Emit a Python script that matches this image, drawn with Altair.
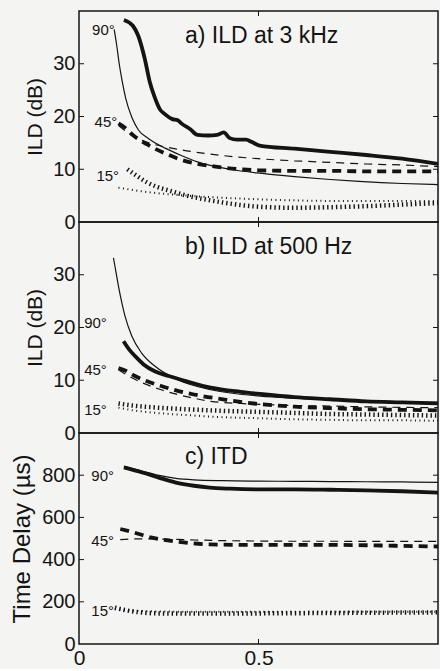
import altair as alt
import pandas as pd

INK = "#141414"
BG = "#f4f4f2"
FONT = "Liberation Sans"

# ---------------- Panel a: ILD at 3 kHz ----------------
a90_thick_x = [0.125, 0.15, 0.165, 0.183, 0.197, 0.21, 0.225, 0.24, 0.26, 0.275, 0.285, 0.31, 0.33, 0.36, 0.385, 0.403, 0.42, 0.44, 0.466, 0.48, 0.503, 0.6, 0.7, 0.8, 0.9, 1.0]
a90_thick_y = [38.3, 37.2, 35.3, 31.0, 26.6, 23.8, 21.4, 20.4, 19.5, 19.3, 18.7, 17.6, 16.5, 16.4, 16.5, 17.0, 15.9, 15.6, 15.6, 15.2, 14.5, 13.9, 13.3, 12.7, 12.0, 11.0]
a90_thin_x = [0.098, 0.105, 0.112, 0.12, 0.13, 0.148, 0.166, 0.194, 0.24, 0.285, 0.33, 0.42, 0.51, 0.60, 0.69, 0.78, 0.9, 1.0]
a90_thin_y = [36.5, 33.5, 30.0, 26.8, 23.5, 19.7, 17.4, 15.8, 14.0, 12.6, 11.4, 10.0, 9.2, 8.6, 8.1, 7.7, 7.3, 7.1]
a45_thick_x = [0.11, 0.13, 0.15, 0.19, 0.24, 0.28, 0.33, 0.38, 0.45, 0.5, 0.6, 0.7, 0.8, 0.9, 1.0]
a45_thick_y = [18.7, 17.8, 16.5, 14.7, 13.0, 11.9, 11.0, 10.5, 10.0, 9.8, 9.7, 9.7, 9.6, 9.6, 9.6]
a45_thin_x = [0.11, 0.15, 0.2, 0.25, 0.3, 0.4, 0.5, 0.6, 0.7, 0.8, 0.9, 1.0]
a45_thin_y = [18.3, 16.3, 14.9, 14.1, 13.5, 12.6, 12.0, 11.6, 11.3, 11.0, 10.8, 10.5]
a15_thick_x = [0.135, 0.16, 0.19, 0.22, 0.26, 0.3, 0.35, 0.4, 0.5, 0.6, 0.7, 0.8, 0.9, 1.0]
a15_thick_y = [10.0, 8.8, 7.5, 6.6, 5.8, 5.0, 4.3, 3.7, 2.9, 2.7, 2.8, 3.0, 3.3, 3.6]
a15_thin_x = [0.11, 0.2, 0.3, 0.4, 0.5, 0.6, 0.7, 0.8, 0.9, 1.0]
a15_thin_y = [6.5, 5.6, 5.0, 4.6, 4.3, 4.1, 4.0, 4.0, 4.0, 4.0]

# ---------------- Panel b: ILD at 500 Hz ----------------
b90_thin_x = [0.096, 0.103, 0.11, 0.12, 0.128, 0.147, 0.174, 0.211, 0.275, 0.367, 0.505, 0.6, 0.7, 0.8, 0.9, 1.0]
b90_thin_y = [33.2, 30.5, 27.8, 24.5, 22.2, 18.4, 15.2, 12.7, 10.1, 8.2, 7.0, 6.6, 6.3, 6.1, 5.9, 5.8]
b90_thick_x = [0.124, 0.14, 0.156, 0.18, 0.211, 0.25, 0.3, 0.367, 0.45, 0.505, 0.6, 0.7, 0.8, 0.9, 1.0]
b90_thick_y = [17.4, 15.8, 14.6, 13.0, 11.7, 10.8, 9.8, 8.6, 7.8, 7.4, 6.8, 6.4, 6.0, 5.8, 5.6]
b45_thick_x = [0.11, 0.13, 0.156, 0.19, 0.229, 0.28, 0.32, 0.41, 0.5, 0.6, 0.7, 0.8, 0.9, 1.0]
b45_thick_y = [12.3, 11.8, 10.8, 9.8, 8.9, 7.9, 7.3, 6.3, 5.5, 5.0, 4.7, 4.5, 4.4, 4.3]
b45_thin_x = [0.11, 0.138, 0.18, 0.229, 0.28, 0.32, 0.367, 0.45, 0.55, 0.7, 0.85, 1.0]
b45_thin_y = [12.0, 10.8, 9.4, 8.2, 7.2, 6.6, 6.0, 5.6, 5.3, 5.1, 4.9, 4.8]
b15_thick_x = [0.11, 0.15, 0.2, 0.3, 0.4, 0.5, 0.6, 0.7, 0.8, 0.9, 1.0]
b15_thick_y = [5.6, 5.2, 4.9, 4.5, 4.2, 4.0, 3.8, 3.6, 3.5, 3.4, 3.3]
b15_thin_x = [0.11, 0.15, 0.2, 0.3, 0.4, 0.5, 0.6, 0.7, 0.8, 0.9, 1.0]
b15_thin_y = [4.8, 4.3, 3.9, 3.4, 3.0, 2.8, 2.6, 2.5, 2.4, 2.4, 2.3]

# ---------------- Panel c: ITD ----------------
c90_thick_x = [0.125, 0.176, 0.22, 0.27, 0.32, 0.364, 0.42, 0.505, 0.6, 0.7, 0.8, 0.9, 1.0]
c90_thick_y = [837, 813, 790, 765, 750, 741, 736, 733, 733, 731, 728, 724, 717]
c90_thin_x = [0.125, 0.176, 0.22, 0.27, 0.32, 0.4, 0.5, 0.6, 0.7, 0.8, 0.9, 1.0]
c90_thin_y = [842, 820, 800, 785, 778, 774, 772, 771, 770, 769, 768, 766]
c45_thick_x = [0.115, 0.15, 0.2, 0.27, 0.364, 0.45, 0.505, 0.6, 0.7, 0.8, 0.9, 1.0]
c45_thick_y = [545, 530, 505, 486, 472, 470, 470, 470, 470, 468, 465, 462]
c45_thin_x = [0.115, 0.15, 0.2, 0.3, 0.4, 0.5, 0.6, 0.7, 0.8, 0.9, 1.0]
c45_thin_y = [495, 498, 498, 494, 490, 488, 487, 487, 486, 486, 486]
c15_thick_x = [0.1, 0.13, 0.17, 0.22, 0.3, 0.4, 0.5, 0.6, 0.7, 0.8, 0.9, 1.0]
c15_thick_y = [172, 160, 150, 145, 144, 144, 145, 146, 147, 148, 149, 150]
c15_thin_x = [0.1, 0.15, 0.2, 0.3, 0.5, 0.7, 0.9, 1.0]
c15_thin_y = [165, 158, 155, 153, 153, 153, 153, 153]

# angle labels
angle_text = ["90°", "45°", "15°"]
a_lab_x = [0.068, 0.075, 0.08]
a_lab_y = [36.4, 19.0, 8.7]
b_lab_x = [0.046, 0.046, 0.046]
b_lab_y = [20.8, 12.0, 4.3]
c_lab_x = [0.066, 0.066, 0.066]
c_lab_y = [794, 486, 155]

# panel titles
panel_titles = ["a) ILD at 3 kHz", "b) ILD at 500 Hz", "c) ITD"]
title_x = [0.295, 0.295, 0.295]
title_y = [34.0, 34.0, 854]

ild_ticks = [0, 10, 20, 30]
itd_ticks = [0, 200, 400, 600, 800]
x_ticks = [0, 0.5]

W, H = 359, 211

STYLES = {
    "thick_solid": dict(strokeWidth=3.8),
    "thin_solid": dict(strokeWidth=1.2),
    "thick_dash": dict(strokeWidth=3.8, strokeDash=[9, 6]),
    "thin_dash": dict(strokeWidth=1.2, strokeDash=[8, 6]),
    "thick_dot": dict(strokeWidth=4.5, strokeDash=[1.4, 3]),
    "thin_dot": dict(strokeWidth=2.0, strokeDash=[1, 3.5]),
}


def panel(series, ydom, yticks, ytitle, ytitle_size, tidx, lab_x, lab_y, show_x):
    xscale = alt.Scale(domain=[0, 1], nice=False, zero=False)
    yscale = alt.Scale(domain=ydom, nice=False)
    if show_x:
        xaxis = alt.Axis(values=x_ticks, format="~g", title=None, grid=False, domain=False, ticks=False,
                         labelFontSize=21, labelPadding=3, labelFlush=False, labelColor=INK,
                         labelFont=FONT)
    else:
        xaxis = None
    yaxis = alt.Axis(values=yticks, title=ytitle, grid=False, domain=False, ticks=False,
                     labelFontSize=20, labelPadding=4, labelColor=INK, labelFont=FONT,
                     titleFontSize=ytitle_size, titleFont=FONT, titleColor=INK,
                     titleFontWeight="normal", titlePadding=7)
    layers = []
    for xs, ys, st in series:
        df = pd.DataFrame({"x": xs, "y": ys})
        layers.append(
            alt.Chart(df).mark_line(color=INK, interpolate="monotone", clip=True, **STYLES[st]).encode(
                x=alt.X("x:Q", scale=xscale, axis=xaxis),
                y=alt.Y("y:Q", scale=yscale, axis=yaxis),
            )
        )
    # angle labels
    ldf = pd.DataFrame({"x": lab_x, "y": lab_y, "t": angle_text})
    layers.append(
        alt.Chart(ldf).mark_text(font=FONT, fontSize=15, color=INK, align="center", baseline="middle").encode(
            x=alt.X("x:Q", scale=xscale, axis=xaxis),
            y=alt.Y("y:Q", scale=yscale, axis=yaxis),
            text="t:N",
        )
    )
    # panel title
    tdf = pd.DataFrame({"x": [title_x[tidx]], "y": [title_y[tidx]], "t": [panel_titles[tidx]]})
    layers.append(
        alt.Chart(tdf).mark_text(font=FONT, fontSize=23, color=INK, align="left", baseline="alphabetic").encode(
            x=alt.X("x:Q", scale=xscale, axis=xaxis),
            y=alt.Y("y:Q", scale=yscale, axis=yaxis),
            text="t:N",
        )
    )
    # inward ticks (left & right)
    tk = pd.DataFrame({"y": [v for v in yticks if v != 0]})
    layers.append(
        alt.Chart(tk).mark_rule(color=INK, strokeWidth=1).encode(
            y=alt.Y("y:Q", scale=yscale, axis=yaxis), x=alt.value(0), x2=alt.value(5)
        )
    )
    layers.append(
        alt.Chart(tk).mark_rule(color=INK, strokeWidth=1).encode(
            y=alt.Y("y:Q", scale=yscale, axis=yaxis), x=alt.value(W - 5), x2=alt.value(W)
        )
    )
    # inward ticks (top & bottom) at x = 0.5
    xt = pd.DataFrame({"x": [0.5]})
    layers.append(
        alt.Chart(xt).mark_rule(color=INK, strokeWidth=1).encode(
            x=alt.X("x:Q", scale=xscale, axis=xaxis), y=alt.value(0), y2=alt.value(5)
        )
    )
    layers.append(
        alt.Chart(xt).mark_rule(color=INK, strokeWidth=1).encode(
            x=alt.X("x:Q", scale=xscale, axis=xaxis), y=alt.value(H - 5), y2=alt.value(H)
        )
    )
    return alt.layer(*layers).properties(width=W, height=H)


pa = panel([
    (a90_thick_x, a90_thick_y, "thick_solid"),
    (a90_thin_x, a90_thin_y, "thin_solid"),
    (a45_thick_x, a45_thick_y, "thick_dash"),
    (a45_thin_x, a45_thin_y, "thin_dash"),
    (a15_thick_x, a15_thick_y, "thick_dot"),
    (a15_thin_x, a15_thin_y, "thin_dot"),
], [0, 40], ild_ticks, "ILD (dB)", 21, 0, a_lab_x, a_lab_y, False)

pb = panel([
    (b90_thick_x, b90_thick_y, "thick_solid"),
    (b90_thin_x, b90_thin_y, "thin_solid"),
    (b45_thick_x, b45_thick_y, "thick_dash"),
    (b45_thin_x, b45_thin_y, "thin_dash"),
    (b15_thick_x, b15_thick_y, "thick_dot"),
    (b15_thin_x, b15_thin_y, "thin_dot"),
], [0, 40], ild_ticks, "ILD (dB)", 21, 1, b_lab_x, b_lab_y, False)

pc = panel([
    (c90_thick_x, c90_thick_y, "thick_solid"),
    (c90_thin_x, c90_thin_y, "thin_solid"),
    (c45_thick_x, c45_thick_y, "thick_dash"),
    (c45_thin_x, c45_thin_y, "thin_dash"),
    (c15_thick_x, c15_thick_y, "thick_dot"),
    (c15_thin_x, c15_thin_y, "thin_dot"),
], [0, 1000], itd_ticks, "Time Delay (µs)", 24, 2, c_lab_x, c_lab_y, True)

chart = alt.vconcat(pa, pb, pc, spacing=0, bounds="flush").properties(
    padding={"left": 9, "top": 9, "right": 0, "bottom": 0},
    background=BG,
).configure_view(stroke=INK, strokeWidth=1.5).configure_concat(spacing=0)

chart.save("out.html", embed_options={"renderer": "svg", "actions": False})
